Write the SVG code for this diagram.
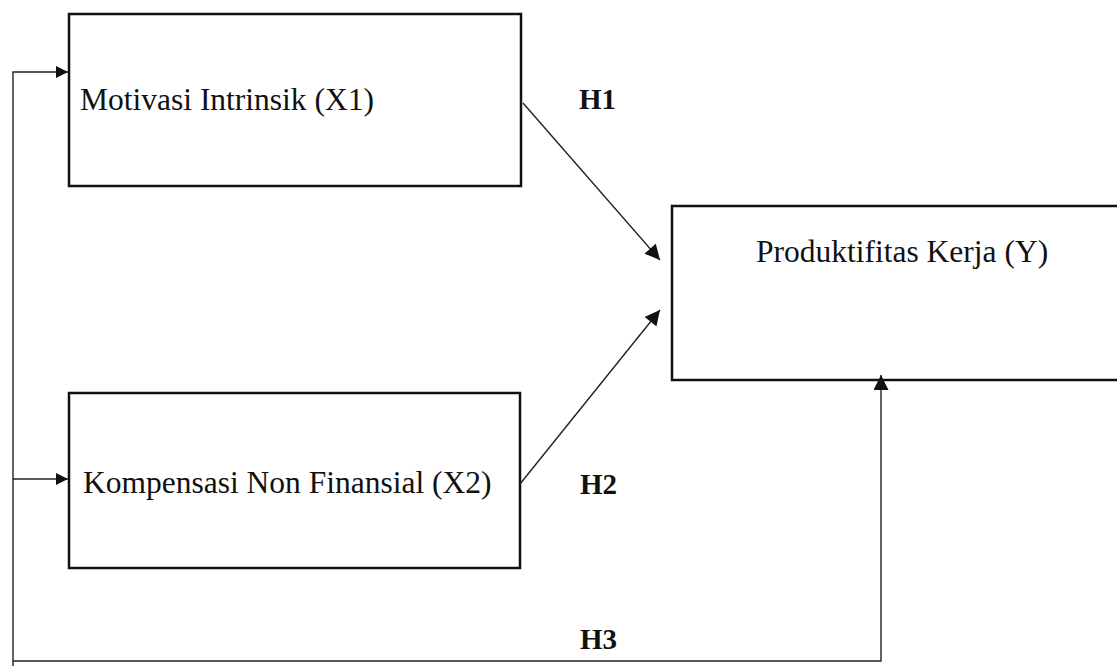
<svg xmlns="http://www.w3.org/2000/svg" width="1117" height="666" viewBox="0 0 1117 666">
<style>
.box{fill:#fff;stroke:#111;stroke-width:2.5}
.lbl{font-family:"Liberation Serif","Times New Roman",serif;font-size:31.5px;fill:#111}
.h{font-family:"Liberation Serif","Times New Roman",serif;font-size:29px;font-weight:bold;fill:#111}
.con{fill:none;stroke:#222;stroke-width:1.4}
</style>
<defs>
<marker id="ah" viewBox="0 0 12 12" refX="12" refY="6" markerWidth="12" markerHeight="12" markerUnits="userSpaceOnUse" orient="auto">
<path d="M0,0 L12,6 L0,12 Z" fill="#111"/>
</marker>
<marker id="ahL" viewBox="0 0 16 16" refX="16" refY="8" markerWidth="16" markerHeight="15" markerUnits="userSpaceOnUse" orient="auto">
<path d="M0,0 L16,8 L0,16 Z" fill="#111"/>
</marker>
</defs>
<rect width="1117" height="666" fill="#fff"/>
<g id="x1">
<rect class="box" x="69" y="14" width="452" height="172"/>
<text class="lbl" x="80" y="110">Motivasi Intrinsik (X1)</text>
</g>
<g id="x2">
<rect class="box" x="69" y="393" width="451" height="175"/>
<text class="lbl" x="83" y="493">Kompensasi Non Finansial (X2)</text>
</g>
<g id="y">
<rect class="box" x="672" y="206" width="460" height="174"/>
<text class="lbl" x="756" y="262">Produktifitas Kerja (Y)</text>
</g>
<g id="connectors">
<path class="con" d="M523,103 L660,260" marker-end="url(#ahL)"/>
<path class="con" d="M520,484 L660,310" marker-end="url(#ahL)"/>
<path class="con" d="M13,666 L13,72 L68,72" marker-end="url(#ah)"/>
<path class="con" d="M13,479 L68,479" marker-end="url(#ah)"/>
<path class="con" d="M13,661 L881,661 L881,375" marker-end="url(#ahL)"/>
</g>
<g id="labels">
<text class="h" x="579" y="109">H1</text>
<text class="h" x="580" y="494">H2</text>
<text class="h" x="580" y="649">H3</text>
</g>
</svg>
